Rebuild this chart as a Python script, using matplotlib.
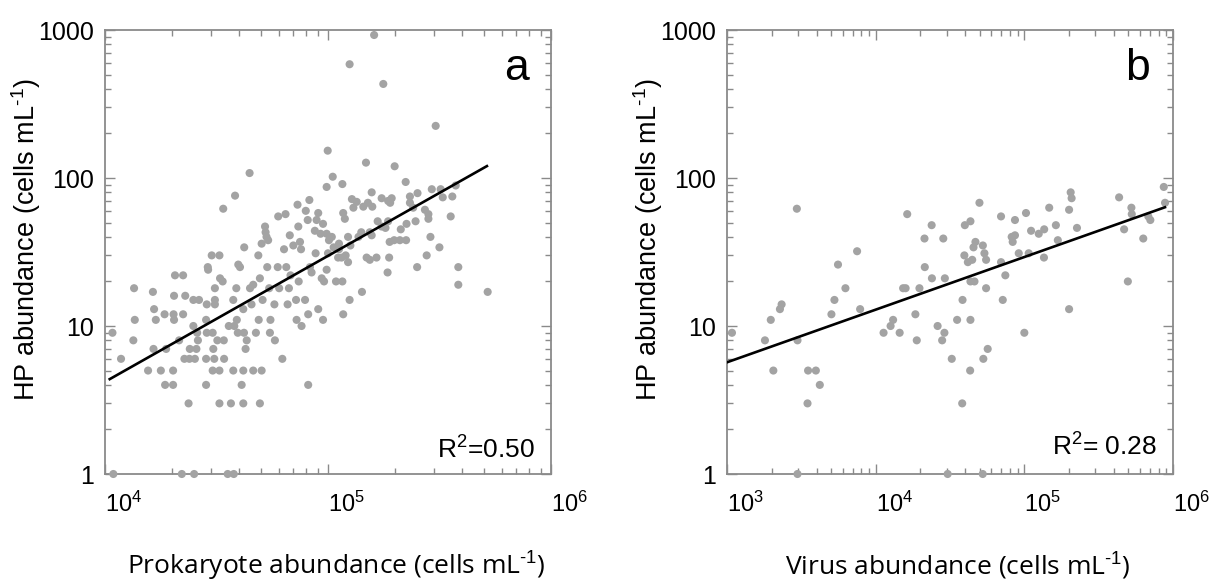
import matplotlib
matplotlib.use("Agg")
import matplotlib.pyplot as plt
import numpy as np
from matplotlib.ticker import LogLocator, FixedLocator, FixedFormatter, NullFormatter

plt.rcParams['font.family'] = ['Liberation Sans', 'DejaVu Sans']
plt.rcParams['mathtext.fontset'] = 'custom'
plt.rcParams['mathtext.rm'] = 'Liberation Sans'
plt.rcParams['mathtext.it'] = 'Liberation Sans'

# ---------------- Panel a: prokaryote abundance (x1000 cells/mL) vs HP abundance
prok_k = [10.9, 22.1, 25.1, 35.5, 37.8,
          10.8, 11.8, 13.4, 13.6, 13.5, 15.6, 16.4, 16.5, 16.6, 16.9, 17.8, 18.5, 18.8, 18.6, 20.2,
          20.2, 20.3, 20.4, 20.6, 22.4, 20.4, 22.4, 21.5, 22.9, 22.7, 23.7, 24.0, 24.9, 25.3, 23.9,
          24.9, 26.4, 25.9, 26.1, 25.7, 28.4, 28.6, 28.4, 28.4, 28.9, 29.0, 28.6, 30.4, 30.4, 30.1,
          31.1, 31.1, 31.1, 30.6, 30.9, 31.9, 32.6, 32.6, 32.6, 32.8, 33.7, 33.9, 34.1, 34.2, 36.7,
          35.9, 37.6, 38.3, 39.0, 38.8, 37.6, 38.0, 39.6, 40.3, 39.4, 41.0, 41.7, 41.7, 42.0, 42.1,
          41.7, 42.7, 43.2, 44.5, 44.7, 45.4, 46.2, 46.2, 47.5, 49.5, 50.4, 48.7, 49.5, 50.4, 48.9,
          50.9, 52.2, 52.5, 53.0, 53.9, 53.4, 54.5, 55.2, 54.9, 57.8, 57.5, 59.5, 59.8, 60.4, 62.4,
          63.5, 64.5, 65.0, 65.9, 66.8, 67.4, 67.9, 69.9, 71.9, 72.3, 73.0, 73.6, 73.9, 74.9, 75.7,
          76.1, 78.9, 79.5, 81.1, 81.5, 82.5, 81.5, 83.0, 84.4, 87.3, 88.9, 90.4, 90.4,
          161, 125, 177, 304, 99.7, 148, 199, 105, 116, 98.6, 223, 292, 320, 374, 361, 327, 252, 233,
          157, 128, 134.5, 151, 174, 186, 193, 190, 158, 144, 117, 130, 119, 233, 241, 272, 282, 282,
          247, 355, 167, 186, 225, 212, 181, 174, 154, 137, 123, 126, 141, 157, 189, 198, 210, 224,
          288, 316, 277, 251, 384, 384, 520, 185, 188, 165, 154, 149, 125, 142, 117, 95, 108.6, 116,
          96, 93.7, 98.6, 111, 115, 120, 123, 112, 106, 101, 95, 98.6, 104, 112, 100, 88, 92.6]
hp_a = [1, 1, 1, 1, 1,
        9, 6, 8, 11, 18, 5, 17, 7, 13, 11, 5, 12, 7, 4, 4,
        5, 12, 11, 22, 22, 16, 12, 8, 16, 6, 3, 7, 10, 6, 6,
        15, 15, 9, 8, 7, 4, 14, 11, 6, 25, 24, 9, 5, 9, 30,
        18, 15, 14, 7, 6, 8, 5, 3, 30, 21, 20, 62, 8, 6, 3,
        10, 15, 76, 11, 18, 5, 10, 26, 25, 9, 4, 3, 5, 9, 34,
        13, 7, 8, 108, 18, 14, 19, 5, 9, 3, 5, 30, 21, 36, 11,
        15, 47, 43, 40, 38, 25, 18, 11, 9, 8, 14, 25, 55, 18, 6,
        33, 57, 25, 14, 18, 41, 22, 35, 15, 11, 66, 47, 20, 37, 33,
        10, 15, 60, 52, 12, 71, 4, 25, 23, 44, 52, 13, 58,
        925, 587, 432, 225, 153, 127, 120, 102, 91, 87, 94, 84, 84, 89, 75, 74, 79, 75,
        80, 72, 69, 68, 73, 70, 73, 68, 64, 64, 58, 63, 53, 68, 63, 61, 57, 53,
        51, 55, 51, 51, 49, 45, 46, 47, 43, 40, 40, 35, 43, 41, 37, 38, 38, 38,
        40, 34, 30, 25, 25, 19, 17, 23, 29, 29, 28, 29, 15, 17, 12, 11, 20, 20,
        20, 21, 24, 29, 29, 30, 27, 33, 34, 38, 49, 42, 40, 36, 31, 31, 42]

# ---------------- Panel b: virus abundance (x1000 /mL) vs HP abundance
virus_k = [1.08, 1.8, 1.97, 2.05, 2.27, 2.33, 2.95, 2.98, 2.98, 3.48, 3.51, 3.96, 4.21, 5.04,
           5.28, 5.58, 6.26, 7.5, 7.86, 11.3, 12.6, 13.1, 14.5, 15.3, 15.9, 16.3, 18.5, 18.9,
           19.7, 23.8, 21.3, 28.5, 21.4, 23.9, 29.2, 26.1, 29.0, 28.0, 35.3, 43.4, 38.4, 56.7,
           39.8, 43.4, 49.9, 39.5, 41.7, 44.6, 45.5, 46.9, 52.6, 53.9, 55.3, 43.4, 46.2, 55.3,
           69.7, 69.7, 71.6, 74.5, 86.5, 82.2, 86.5, 83.5, 102.6, 91.7, 107, 100, 111, 125, 136,
           147, 163, 168, 135.5, 200, 205, 208, 226, 200, 434, 525, 528, 469, 497, 631, 682, 704,
           867, 884, 32.5, 43.2, 53, 38.2, 30.5, 52.5]
hp_b = [9, 8, 11, 5, 13, 14, 62, 8, 1, 3, 5, 5, 4, 12,
        15, 26, 18, 32, 13, 9, 10, 11, 9, 18, 18, 57, 12, 8,
        18, 48, 39, 39, 25, 21, 21, 10, 9, 8, 11, 11, 15, 7,
        48, 51, 68, 30, 27, 28, 34, 37, 35, 31, 28, 20, 20, 18,
        55, 27, 15, 22, 52, 40, 41, 37, 58, 31, 31, 9, 44, 42, 45,
        63, 48, 38, 29, 61, 80, 73, 46, 13, 74, 63, 57, 45, 20, 39, 55, 52,
        87, 68, 6, 5, 6, 3, 1, 1]

# regression lines (log10 y = a + b log10 x)
fit_a = {"a": -2.781, "b": 0.851, "xmin": 1.05e4, "xmax": 5.16e5}
fit_b = {"a": -0.312, "b": 0.3556, "xmin": 1.0e3, "xmax": 8.83e5}

xlabels = ["Prokaryote abundance (cells mL$^{\\text{-}1}$)", "Virus abundance (cells mL$^{\\text{-}1}$)"]
ylabel = "HP abundance (cells mL$^{\\text{-}1}$)"
panel_tags = ["a", "b"]
r2_texts = ["R$^2$=0.50", "R$^2$= 0.28"]
ytick_vals = [1, 10, 100, 1000]
ytick_labs = ["1", "10", "100", "1000"]

W, H = 1214, 581
fig = plt.figure(figsize=(W / 100, H / 100), dpi=100)

spine_col = "#8a8a8a"
dot_col = "#a3a3a3"


def setup(ax, xlim, xdecades):
    ax.set_xscale("log")
    ax.set_yscale("log")
    ax.set_xlim(*xlim)
    ax.set_ylim(1, 1000)
    for s in ax.spines.values():
        s.set_color(spine_col)
        s.set_linewidth(1.3)
    ax.tick_params(which="both", direction="in", top=True, right=True,
                   color=spine_col, width=1.0)
    ax.tick_params(which="major", length=7)
    ax.tick_params(which="minor", length=4)
    ax.tick_params(axis="x", which="major", labelsize=17, pad=13)
    ax.tick_params(axis="y", which="major", labelsize=18, pad=8)
    ax.xaxis.set_major_locator(FixedLocator([10.0 ** d for d in xdecades]))
    ax.xaxis.set_major_formatter(FixedFormatter([r"$10^{%d}$" % d for d in xdecades]))
    ax.xaxis.set_minor_locator(LogLocator(base=10, subs=np.arange(2, 10), numticks=20))
    ax.xaxis.set_minor_formatter(NullFormatter())
    ax.yaxis.set_major_locator(FixedLocator(ytick_vals))
    ax.yaxis.set_major_formatter(FixedFormatter(ytick_labs))
    ax.yaxis.set_minor_locator(LogLocator(base=10, subs=np.arange(2, 10), numticks=20))
    ax.yaxis.set_minor_formatter(NullFormatter())


axA = fig.add_axes([105 / W, 1 - 474 / H, 446 / W, 444 / H])
axB = fig.add_axes([727 / W, 1 - 474 / H, 446 / W, 444 / H])
setup(axA, (1e4, 1e6), [4, 5, 6])
setup(axB, (1e3, 1e6), [3, 4, 5, 6])

axA.scatter(np.array(prok_k) * 1e3, hp_a, s=34, color=dot_col, edgecolors="none",
            zorder=3, clip_on=False)
axB.scatter(np.array(virus_k) * 1e3, hp_b, s=34, color=dot_col, edgecolors="none",
            zorder=3, clip_on=False)

for ax, fit in ((axA, fit_a), (axB, fit_b)):
    xx = np.array([fit["xmin"], fit["xmax"]])
    yy = 10 ** (fit["a"] + fit["b"] * np.log10(xx))
    ax.plot(xx, yy, color="black", lw=1.9, zorder=4)

for ax in (axA, axB):
    for lab in ax.get_xticklabels():
        lab.set_horizontalalignment("left")

# axis labels
for ax, xl in ((axA, xlabels[0]), (axB, xlabels[1])):
    pos = ax.get_position()
    fig.text((pos.x0 + pos.x1) / 2 + 8 / W, 1 - 566 / H, xl, ha="center", va="center",
             fontsize=19, family=["Open Sans", "DejaVu Sans"])
    fig.text(pos.x0 - 79 / W, 1 - 240 / H, ylabel, rotation=90,
             ha="center", va="center", fontsize=19.5)

# panel tags and R^2
fig.text(529 / W, 1 - 80 / H, panel_tags[0], ha="right", va="baseline", fontsize=32)
fig.text(1150 / W, 1 - 80 / H, panel_tags[1], ha="right", va="baseline", fontsize=32)
fig.text(535 / W, 1 - 459 / H, r2_texts[0], ha="right", va="baseline", fontsize=19)
fig.text(1157 / W, 1 - 456 / H, r2_texts[1], ha="right", va="baseline", fontsize=19)

fig.savefig("out.png", dpi=100)
